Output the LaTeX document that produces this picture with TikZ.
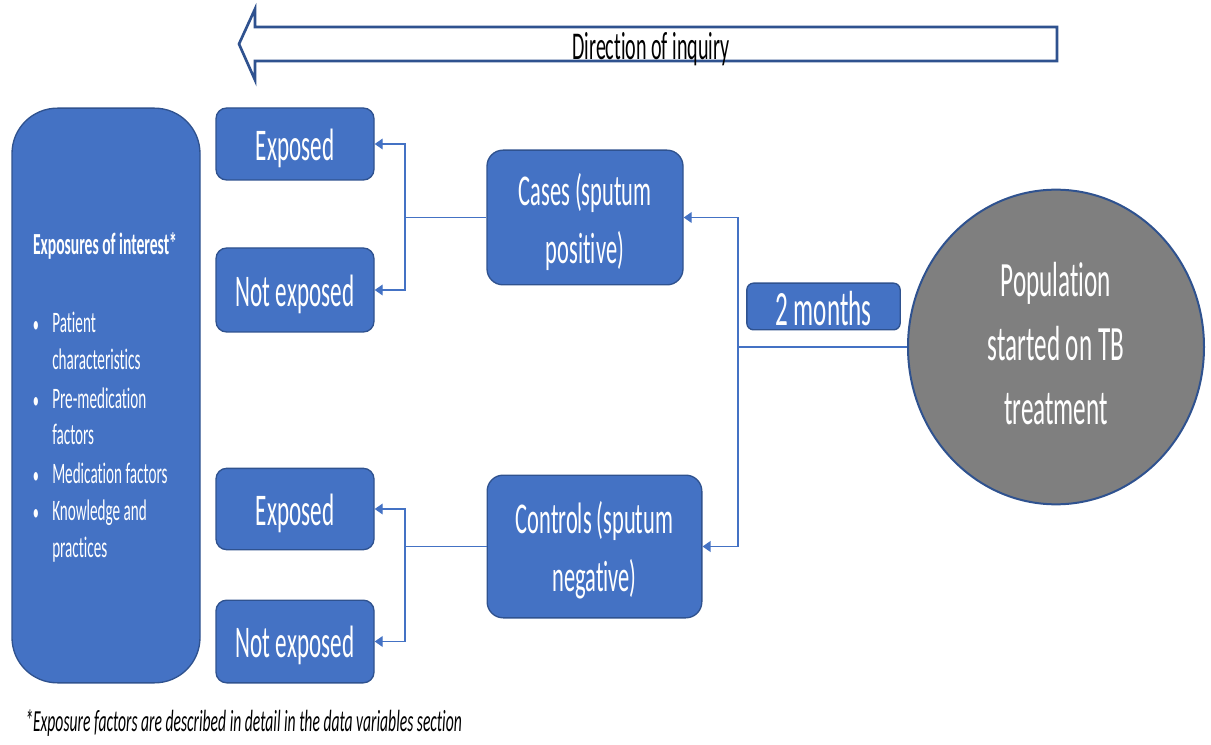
\documentclass[tikz,border=0pt]{standalone}
\usepackage{fontspec}
\setmainfont{Carlito}[FakeStretch=0.51, Ligatures=CommonOff]
\usetikzlibrary{arrows.meta,shapes.geometric}
\definecolor{boxblue}{HTML}{4472C4}
\definecolor{edgeblue}{HTML}{2F528F}
\definecolor{circgray}{HTML}{7F7F7F}
\newcommand\fsz[2]{\fontsize{#1}{#2}\selectfont}
\newcommand\dn[1]{\raisebox{-3pt}[\height][\depth]{#1}}
\newcommand\upp[1]{\raisebox{2.5pt}[\height][\depth]{#1}}
\tikzset{
  box/.style={draw=edgeblue, line width=1pt, fill=boxblue, text=white, rounded corners=8pt, align=center, inner sep=0pt},
  smallbox/.style={box, minimum width=118.5pt, font=\fsz{34}{40}},
  conn/.style={draw=boxblue, line width=1pt, -{Triangle[length=6pt,width=8pt]}},
  plainline/.style={draw=boxblue, line width=1pt},
  bigarrow/.style={draw=edgeblue, line width=2pt, fill=white, line join=miter},
  listtext/.style={anchor=base west, inner sep=0pt, text=white, font=\fsz{22.3}{25}},
  bulletmark/.style={anchor=base, inner sep=0pt, text=white, font=\fsz{18}{25}},
}
\begin{document}
\begin{tikzpicture}[x=0.75pt,y=-0.75pt]
\useasboundingbox (0,0) rectangle (1211,745);

% direction arrow
\draw[bigarrow] (239,44) -- (255,9) -- (255,27) -- (1057,27) -- (1057,61) -- (255,61) -- (255,80) -- cycle;
\node[anchor=base, inner sep=0pt, font=\fsz{29.5}{36}] (dir) at (651,60) {Direction of inquiry};

% exposures box
\node[box, rounded corners=34pt, minimum width=141pt, minimum height=431pt] (expo) at (106,395.5) {};
\node[anchor=base, inner sep=0pt, text=white, font=\bfseries\fsz{23}{25}] (hdr) at (105,255) {Exposures of interest*};
\node[bulletmark] (b1) at (36,333) {•};
\node[listtext] (l1) at (52,333) {Patient};
\node[listtext] (l2) at (52,370) {characteristics};
\node[bulletmark] (b2) at (36,408) {•};
\node[listtext] (l3) at (52,408) {Pre-medication};
\node[listtext] (l4) at (52,445) {factors};
\node[bulletmark] (b3) at (36,483) {•};
\node[listtext] (l5) at (52,483) {Medication factors};
\node[bulletmark] (b4) at (36,520) {•};
\node[listtext] (l6) at (52,520) {Knowledge and};
\node[listtext] (l7) at (52,557) {practices};

% exposed / not exposed boxes
\node[smallbox, minimum height=54pt] (e1) at (295,144) {\dn{Exposed}};
\node[smallbox, minimum height=63pt] (n1) at (295,290) {\dn{Not exposed}};
\node[smallbox, minimum height=61pt] (e2) at (295,509) {\dn{Exposed}};
\node[smallbox, minimum height=62pt] (n2) at (295,641.5) {\dn{Not exposed}};

% cases / controls
\node[box, rounded corners=12pt, minimum width=147pt, minimum height=101pt, font=\fsz{33}{43.5}] (cases) at (585,217.5) {\dn{Cases (sputum}\\\dn{positive)}};
\node[box, rounded corners=12pt, minimum width=161pt, minimum height=107pt, font=\fsz{33}{43.5}] (controls) at (594.5,546.5) {\dn{Controls (sputum}\\\dn{negative)}};

% 2 months
\node[box, rounded corners=5pt, minimum width=115pt, minimum height=35pt, font=\fsz{37}{40}] (two) at (823.5,306.5) {\raisebox{-1.5pt}[\height][\depth]{2 months}};

% population
\node[ellipse, draw=edgeblue, line width=1.5pt, fill=circgray, text=white, minimum width=222pt, minimum height=236pt, inner sep=0pt, align=center, font=\fsz{37}{48}] (pop) at (1056,347) {\upp{Population}\\\upp{started on TB}\\\upp{treatment}};

% connectors
\coordinate (jx) at (738,0);
\coordinate (jl) at (405,0);
\draw[plainline] (pop.west) -- (pop.west -| jx) coordinate (j0);
\draw[conn] (j0) |- (cases.east);
\draw[conn] (j0) |- (controls.east);
\draw[plainline] (cases.west) -- (cases.west -| jl) coordinate (j1);
\draw[conn] (j1) |- (e1.east);
\draw[conn] (j1) |- (n1.east);
\draw[plainline] (controls.west) -- (controls.west -| jl) coordinate (j2);
\draw[conn] (j2) |- (e2.east);
\draw[conn] (j2) |- (n2.east);

% footnote
\node[anchor=base west, inner sep=0pt, font=\itshape\fsz{23}{25}] (fn) at (25,731) {*Exposure factors are described in detail in the data variables section};
\end{tikzpicture}
\end{document}
